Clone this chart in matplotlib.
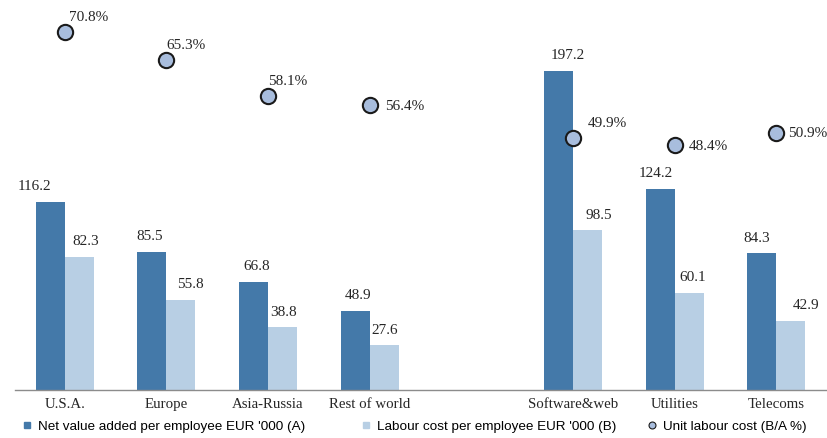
import matplotlib
matplotlib.use("Agg")
import matplotlib.pyplot as plt
from matplotlib.lines import Line2D
import numpy as np

# Data
categories = ["U.S.A.", "Europe", "Asia-Russia", "Rest of world",
              "Software&web", "Utilities", "Telecoms"]
net_value_added = [116.2, 85.5, 66.8, 48.9, 197.2, 124.2, 84.3]   # EUR '000 (A)
labour_cost = [82.3, 55.8, 38.8, 27.6, 98.5, 60.1, 42.9]          # EUR '000 (B)
unit_labour_cost = [70.8, 65.3, 58.1, 56.4, 49.9, 48.4, 50.9]     # B/A %

series_names = ["Net value added per employee EUR '000 (A)",
                "Labour cost per employee EUR '000 (B)",
                "Unit labour cost (B/A %)"]

# Slot positions: geographic groups, an empty slot, then sectors
positions = np.array([0, 1, 2, 3, 5, 6, 7])

# Label nudges in pixels
a_label_dx = [-16, -2, 3, 3, 9, -4, -5]
b_label_dx = [6, 9, 1, 1, 11, 4, 15]
pct_offsets = [(4, 16), (0, 16), (0, 16), (15, 0), (15, 15), (14, 0), (12, 0)]

DARK = "#4479a9"
LIGHT = "#b8cfe4"
DOT = "#a8bddd"
TXT = "#262626"
serif = ["Liberation Serif", "DejaVu Serif"]
sans = ["Liberation Sans", "DejaVu Sans"]

fig = plt.figure(figsize=(8.28, 4.39), dpi=100)
ax = fig.add_axes([15 / 828, 48 / 439, 813 / 828, 391 / 439])
ax2 = ax.twinx()

bw = 0.285
ax.bar(positions - bw / 2, net_value_added, width=bw, color=DARK, zorder=2)
ax.bar(positions + bw / 2, labour_cost, width=bw, color=LIGHT, zorder=2)

for x, a, b, da, db in zip(positions, net_value_added, labour_cost, a_label_dx, b_label_dx):
    ax.annotate(f"{a:.1f}", (x - bw / 2, a), xytext=(da, 16), textcoords="offset pixels",
                ha="center", va="center", fontsize=11, family=serif, color=TXT)
    ax.annotate(f"{b:.1f}", (x + bw / 2, b), xytext=(db, 16), textcoords="offset pixels",
                ha="center", va="center", fontsize=11, family=serif, color=TXT)

ax2.plot(positions, unit_labour_cost, linestyle="none", marker="o", markersize=11,
         markerfacecolor=DOT, markeredgecolor="#1a1a1a", markeredgewidth=1.5, zorder=3)
for x, v, (dx, dy) in zip(positions, unit_labour_cost, pct_offsets):
    ax2.annotate(f"{v:.1f}%", (x, v), xytext=(dx, dy), textcoords="offset pixels",
                 ha="left", va="center", fontsize=11, family=serif, color=TXT)

ax.set_xlim(-0.49, 7.51)
ax.set_ylim(0, 241.4)
ax2.set_ylim(0, 77.4)

ax.set_xticks(positions)
ax.set_xticklabels(categories, fontsize=10.7, family=serif, color=TXT)
ax.tick_params(axis="x", length=0, pad=5)
ax.set_yticks([])
ax2.set_yticks([])

for a in (ax, ax2):
    for s in ("top", "right", "left", "bottom"):
        a.spines[s].set_visible(False)
ax.spines["bottom"].set_visible(True)
ax.spines["bottom"].set_color("#8c8c8c")
ax.spines["bottom"].set_linewidth(1.0)

handles = [
    Line2D([], [], linestyle="none", marker="s", markersize=5, markerfacecolor=DARK,
           markeredgecolor=DARK),
    Line2D([], [], linestyle="none", marker="s", markersize=5, markerfacecolor=LIGHT,
           markeredgecolor=LIGHT),
    Line2D([], [], linestyle="none", marker="o", markersize=5, markerfacecolor=DOT,
           markeredgecolor="#1a1a1a", markeredgewidth=0.8),
]
legend_x = [23, 362, 648]
for h, name, lx in zip(handles, series_names, legend_x):
    fig.legend([h], [name], loc="center left",
               bbox_to_anchor=(lx / 828, 1 - 427 / 439),
               frameon=False, handlelength=0.6, handletextpad=0.5,
               borderaxespad=0, borderpad=0,
               prop={"family": sans, "size": 9.7})

fig.savefig("out.png", dpi=100)
